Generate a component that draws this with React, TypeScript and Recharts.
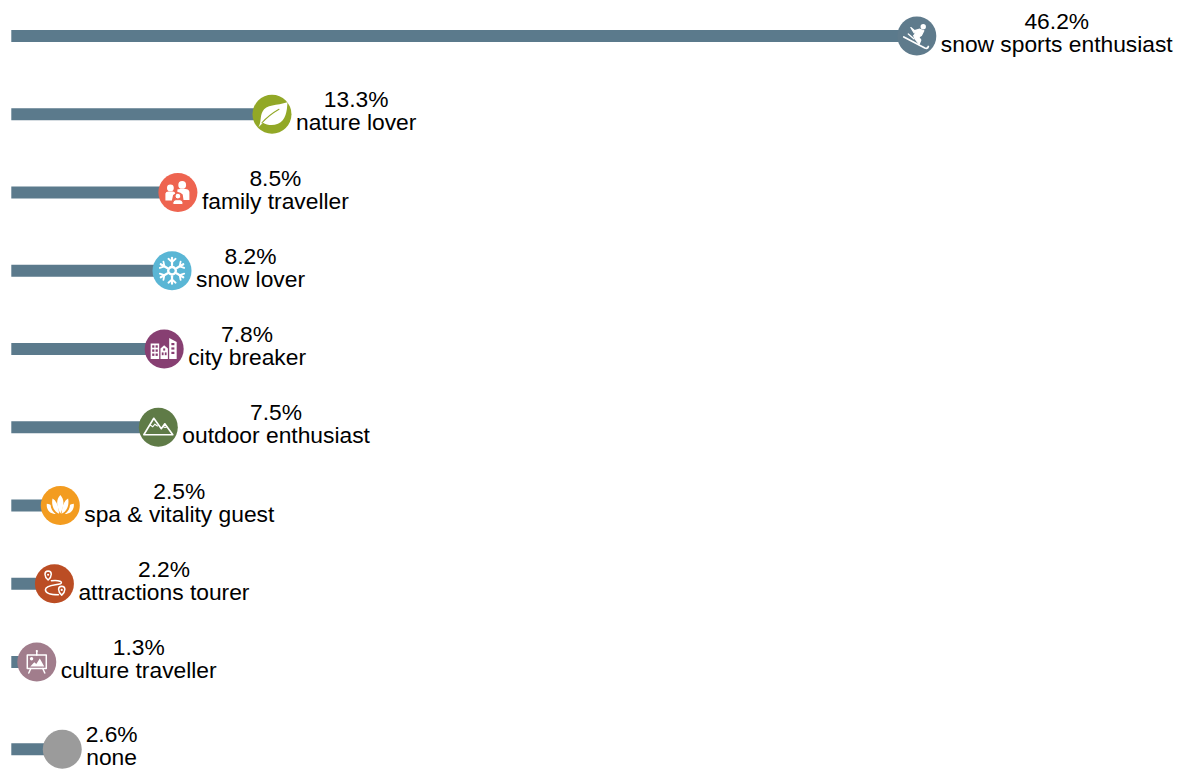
import React from "react";
import { BarChart, Bar, XAxis, YAxis, LabelList } from "recharts";

// Guest types and their share of respondents, in percent.
const guestTypes = [
  "snow sports enthusiast",
  "nature lover",
  "family traveller",
  "snow lover",
  "city breaker",
  "outdoor enthusiast",
  "spa & vitality guest",
  "attractions tourer",
  "culture traveller",
  "none",
];
const shares = [46.2, 13.3, 8.5, 8.2, 7.8, 7.5, 2.5, 2.2, 1.3, 2.6];

const badgeColors = [
  "#5f7b8c",
  "#92a827",
  "#ee6450",
  "#5ab6d5",
  "#873f72",
  "#5f7b47",
  "#f39c20",
  "#bb4d24",
  "#a17d8c",
  "#9b9b9b",
];

const rows = guestTypes.map((guestType, i) => ({ guestType, share: shares[i], index: i }));

const BAR_COLOR = "#5b7a8c";
const BADGE_RADIUS = 19.5;
const FONT = '"Liberation Sans", Arial, sans-serif';
const FONT_SIZE = 22.8;
// "none" sits a little apart from the named guest types.
const NONE_ROW_GAP = 9;

const rowShift = (index: number) => (index === rows.length - 1 ? NONE_ROW_GAP : 0);

const textWidth = (() => {
  const ctx = document.createElement("canvas").getContext("2d")!;
  ctx.font = `${FONT_SIZE}px ${FONT}`;
  return (s: string) => ctx.measureText(s).width;
})();

const SkiIcon = () => (
  <g fill="#fff" stroke="#fff" strokeLinecap="round" strokeLinejoin="round">
    <circle cx={6.4} cy={-9.3} r={2.7} stroke="none" />
    <path d="M-6 -8.5 L-2.2 -5.4 L3 -6.8 L7 -5.2 L4.6 -0.6 L2 1 L4 4 L2.4 8 L-1.8 2.8 L-3.2 -0.4 L-0.6 -3 L-2.8 -3.2 Z" strokeWidth={1.2} />
    <path d="M-13 1 L8 12 Q10.8 13 11.5 10.5" fill="none" strokeWidth={1.8} />
    <path d="M-8.5 -2 L-3 2.8" fill="none" strokeWidth={1.4} />
  </g>
);

const LeafIcon = () => (
  <g>
    <path d="M-13.5 13 C-10.5 8 -12 2 -9.5 -2.5 C-6 -10 5 -8.5 15.5 -12 C15 -3 14 6 6 9.5 C0.5 11.8 -5 10.8 -9 8.5 Z" fill="#fff" />
    <path d="M-10 8.5 C-5 3 0 -1 7 -5" fill="none" stroke="#92a827" strokeWidth={1.1} strokeLinecap="round" />
  </g>
);

const FamilyIcon = () => (
  <g fill="#fff">
    <circle cx={-7.5} cy={-4.6} r={3.4} />
    <circle cx={4.3} cy={-7.6} r={3.9} />
    <path d="M-12.5 8 L-12.5 1 Q-12 -1 -9.5 -1 L-5 -1 Q-3 -1 -2.6 1 L-4.8 2.5 L-6 8 Z" />
    <path d="M-0.5 -3 Q0 -3.5 2.5 -3.5 L7.5 -3.5 Q11 -3.5 11.5 -0.5 L11.5 7.5 L5.6 7.5 L4.8 2 Q2.5 -0.8 -0.5 -0.6 Z" />
    <circle cx={0} cy={3.6} r={2.9} stroke="#ee6450" strokeWidth={1} />
    <path d="M-5 12 L-5 10 Q-4.5 7.2 -2 7.2 L2 7.2 Q4.5 7.2 5 10 L5 12 Z" stroke="#ee6450" strokeWidth={1} />
  </g>
);

const SnowIcon = () => (
  <g fill="none" stroke="#fff" strokeWidth={2.2} strokeLinecap="round">
    {[0, 60, 120, 180, 240, 300].map((a) => (
      <g key={a} transform={`rotate(${a})`}>
        <path d="M0 -5.5 L0 -13" />
        <path d="M-3.6 -12 L0 -8.8 L3.6 -12" strokeWidth={1.8} />
      </g>
    ))}
    <circle r={3.8} strokeWidth={2.4} />
  </g>
);

const CityIcon = () => (
  <g fill="#fff" transform="translate(-1 0)">
    <rect x={-12.5} y={-5.5} width={8.5} height={15.5} />
    <path d="M-2.7 10 L-2.7 -0.5 L1 -3.8 L4.7 -0.5 L4.7 10 Z" />
    <path d="M6 10 L6 -11 L13.5 -7 L13.5 10 Z" />
    <g fill="#873f72">
      <rect x={-11} y={-3.7} width={2.2} height={2.4} />
      <rect x={-7.6} y={-3.7} width={2.2} height={2.4} />
      <rect x={-11} y={0.4} width={2.2} height={2.4} />
      <rect x={-7.6} y={0.4} width={2.2} height={2.4} />
      <rect x={-11} y={4.5} width={2.2} height={2.4} />
      <rect x={-7.6} y={4.5} width={2.2} height={2.4} />
      <rect x={0} y={-0.6} width={2} height={2.2} />
      <rect x={-1.4} y={3.4} width={1.8} height={2.8} />
      <rect x={1.6} y={3.4} width={1.8} height={2.8} />
      <rect x={8.2} y={-6} width={3} height={2.2} />
      <rect x={8.2} y={-1.6} width={3} height={2.2} />
      <rect x={8.2} y={2.8} width={3} height={2.2} />
    </g>
  </g>
);

const MountainIcon = () => (
  <g fill="none" stroke="#fff" strokeWidth={1.6} strokeLinejoin="round">
    <path d="M-14.5 7.5 L-4.5 -9 L3 1.5 L6.5 -3.5 L14.5 7.5 Z" />
    <path d="M-8.5 -2.5 L-5.5 -0.5 L-3.5 -3 L-0.5 -1" strokeWidth={1.2} />
    <path d="M4.5 -0.8 L6.8 0.2 L9 -0.5" strokeWidth={1.1} />
  </g>
);

const LotusIcon = () => (
  <g fill="#fff">
    <path d="M0 -10.5 C3.8 -6.5 4.5 -1 0 8 C-4.5 -1 -3.8 -6.5 0 -10.5 Z" />
    <path d="M-7.8 -7 C-3.5 -4.5 -1.8 0.5 -1.2 8.3 C-6.5 6 -9.2 0 -7.8 -7 Z" />
    <path d="M7.8 -7 C3.5 -4.5 1.8 0.5 1.2 8.3 C6.5 6 9.2 0 7.8 -7 Z" />
    <path d="M-13.5 -1.8 C-11.5 -1.8 -10.4 -1 -9.7 -0.6 C-9.6 2.8 -7.6 6.4 -4.5 8.5 C-10.2 8.5 -14.2 4.5 -13.5 -1.8 Z" />
    <path d="M13.5 -1.8 C11.5 -1.8 10.4 -1 9.7 -0.6 C9.6 2.8 7.6 6.4 4.5 8.5 C10.2 8.5 14.2 4.5 13.5 -1.8 Z" />
  </g>
);

const RouteIcon = () => (
  <g fill="none" stroke="#fff" strokeWidth={1.5} strokeLinecap="round" strokeLinejoin="round">
    <path d="M-6.3 -3.8 C-10.5 -7.5 -10.5 -12.6 -6.3 -12.8 C-2.1 -12.6 -2.1 -7.5 -6.3 -3.8 Z" />
    <circle cx={-6.3} cy={-9} r={1.1} fill="#fff" stroke="none" />
    <path d="M7.3 11.4 C3.1 7.7 3.1 2.6 7.3 2.4 C11.5 2.6 11.5 7.7 7.3 11.4 Z" />
    <circle cx={7.3} cy={6.2} r={1.1} fill="#fff" stroke="none" />
    <path d="M-3 -3 C5 -4 9 -1.5 6 0 C2 1.5 -9 1.5 -9 6 C-9 10 -2 11 4 11" />
  </g>
);

const EaselIcon = () => (
  <g fill="none" stroke="#fff" strokeWidth={1.5} strokeLinecap="round" strokeLinejoin="round">
    <rect x={-9.5} y={-7} width={19} height={13.5} />
    <path d="M0 -11 L0 -7" />
    <circle cx={0} cy={-11} r={1.1} fill="#fff" stroke="none" />
    <path d="M-6 6.5 L-8 11 M6 6.5 L8 11" />
    <circle cx={-5.2} cy={-3.2} r={1.7} fill="#fff" stroke="none" />
    <path d="M-6.5 4.5 L-2.5 0.2 L-0.5 2 L3 -3.5 L7.5 4.5 Z" fill="#fff" stroke="none" />
  </g>
);

const icons: (React.FC | null)[] = [
  SkiIcon,
  LeafIcon,
  FamilyIcon,
  SnowIcon,
  CityIcon,
  MountainIcon,
  LotusIcon,
  RouteIcon,
  EaselIcon,
  null,
];

const ShareBar = (props: any) => {
  const { x, y, width, height, payload } = props;
  return (
    <rect x={x} y={y + rowShift(payload.index)} width={width} height={height} fill={BAR_COLOR} />
  );
};

// Round badge at the bar's end, followed by the value and the guest type.
const BarEnd = (props: any) => {
  const { x, y, width, height, index } = props;
  const cx = x + width;
  const cy = y + height / 2 + rowShift(index);
  const name = guestTypes[index];
  const textCenter = cx + 24 + textWidth(name) / 2;
  const Icon = icons[index];
  return (
    <g>
      <circle cx={cx} cy={cy} r={BADGE_RADIUS} fill={badgeColors[index]} />
      {Icon && (
        <g transform={`translate(${cx} ${cy})`}>
          <Icon />
        </g>
      )}
      <text textAnchor="middle" fontFamily={FONT} fontSize={FONT_SIZE} fill="#000">
        <tspan x={textCenter} y={cy - 7}>{`${shares[index].toFixed(1)}%`}</tspan>
        <tspan x={textCenter} y={cy + 16}>{name}</tspan>
      </text>
    </g>
  );
};

export default function App() {
  return (
    <div style={{ position: "absolute", left: 0, top: 0, width: 1183, height: 769, overflow: "hidden" }}>
      <BarChart
        width={1183}
        height={769}
        data={rows}
        layout="vertical"
        barSize={12}
        margin={{ top: -3, right: 191.7, bottom: -10.5, left: 11.3 }}
      >
        <XAxis type="number" domain={[0, 50]} hide />
        <YAxis type="category" dataKey="guestType" hide />
        <Bar dataKey="share" isAnimationActive={false} shape={ShareBar}>
          <LabelList dataKey="share" content={BarEnd} />
        </Bar>
      </BarChart>
    </div>
  );
}
